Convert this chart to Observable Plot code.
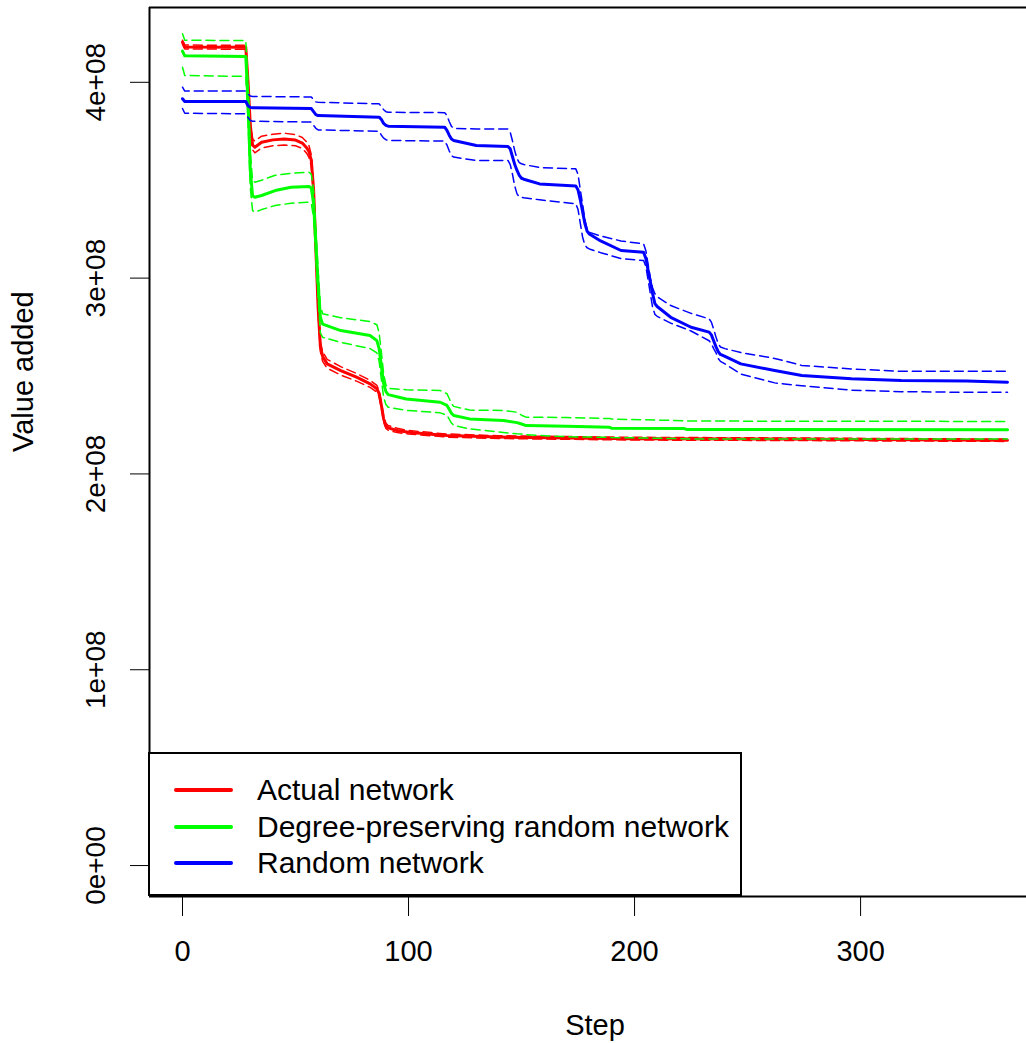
<!DOCTYPE html>
<html><head><meta charset="utf-8">
<script src="https://cdn.jsdelivr.net/npm/d3@7"></script>
<script src="https://cdn.jsdelivr.net/npm/@observablehq/plot@0.6"></script>
<style>
html,body{margin:0;padding:0;background:#fff;}
#wrap{position:relative;width:1026px;height:1043px;overflow:hidden;font-family:"Liberation Sans",Arial,sans-serif;}
#wrap svg{overflow:hidden;}
#legend{position:absolute;left:148px;top:752px;width:594px;height:144px;box-sizing:border-box;border:2px solid #000;background:#fff;}
.row{position:absolute;left:0;height:36px;width:100%;}
.sw{position:absolute;left:24px;top:16px;width:59px;height:4px;border-radius:2px;}
.lab{position:absolute;left:107px;top:0;font-size:30px;line-height:36px;white-space:nowrap;color:#000;}
</style></head><body><div id="wrap"></div>
<script>
// ---- data (values in units of 1e8) ----
const seriesNames = ["Actual network", "Degree-preserving random network", "Random network"];
const seriesColors = ["#ff0000", "#00ff00", "#0000ff"];

const xTicks = [0, 100, 200, 300];
const yTicks = [0, 1, 2, 3, 4];
const yTickLabels = ["0e+00", "1e+08", "2e+08", "3e+08", "4e+08"];

const redSteps = [0,1,28,29,30,31,32,35,40,45,50,53,55,56,57,58,59,60,61,62,64,70,77,83,86,87,88,89,90,91,95,100,110,117,140,200,260,365];
const redMid = [4.205,4.180,4.179,4.00,3.78,3.68,3.668,3.694,3.706,3.711,3.705,3.690,3.665,3.645,3.60,3.45,3.15,2.85,2.65,2.60,2.562,2.528,2.494,2.46,2.435,2.41,2.35,2.28,2.245,2.235,2.222,2.213,2.203,2.196,2.188,2.180,2.178,2.172];
const redHi = [4.215,4.190,4.189,4.01,3.80,3.71,3.70,3.725,3.735,3.740,3.733,3.718,3.695,3.675,3.63,3.48,3.18,2.88,2.675,2.625,2.585,2.548,2.513,2.478,2.452,2.425,2.365,2.295,2.258,2.247,2.233,2.222,2.211,2.204,2.195,2.187,2.184,2.178];
const redLo = [4.195,4.170,4.169,3.99,3.76,3.655,3.64,3.665,3.676,3.680,3.676,3.662,3.637,3.615,3.57,3.42,3.12,2.82,2.625,2.575,2.54,2.505,2.474,2.442,2.418,2.395,2.335,2.265,2.232,2.223,2.211,2.204,2.195,2.188,2.181,2.173,2.171,2.166];

const greenSteps = [0,1,28,29,30,31,32,35,41,48,56,57,58,59,60,61,62,70,83,86,87,88,89,90,91,99,114,117,118,119,120,127,142,148,150,152,170,189,190,222,223,365];
const greenMid = [4.159,4.135,4.132,3.90,3.55,3.42,3.413,3.422,3.447,3.464,3.468,3.46,3.38,3.18,2.97,2.80,2.765,2.732,2.707,2.681,2.64,2.55,2.46,2.42,2.405,2.383,2.366,2.35,2.33,2.31,2.298,2.281,2.273,2.262,2.255,2.247,2.243,2.238,2.233,2.232,2.227,2.225];
const greenHi = [4.248,4.215,4.213,4.00,3.64,3.50,3.49,3.50,3.525,3.535,3.541,3.53,3.45,3.25,3.04,2.86,2.818,2.798,2.778,2.762,2.72,2.62,2.51,2.455,2.437,2.43,2.426,2.41,2.385,2.36,2.345,2.326,2.324,2.315,2.30,2.29,2.288,2.283,2.28,2.272,2.270,2.268];
const greenLo = [4.077,4.035,4.030,3.80,3.46,3.345,3.337,3.35,3.371,3.382,3.388,3.38,3.31,3.11,2.90,2.72,2.698,2.672,2.64,2.618,2.575,2.48,2.39,2.355,2.341,2.325,2.312,2.30,2.28,2.26,2.248,2.23,2.212,2.205,2.204,2.20,2.19,2.187,2.186,2.18,2.179,2.178];

const blueSteps = [0,1,28,29,30,31,57,58,59,60,87,88,89,90,91,116,117,118,119,120,130,144,145,146,147,148,149,150,151,158,174,175,176,177,178,179,180,185,194,204,205,206,207,208,209,210,216,225,233,234,235,236,237,238,240,247,262,274,296,318,347,365];
const blueMid = [3.916,3.902,3.902,3.88,3.872,3.870,3.866,3.85,3.835,3.830,3.822,3.81,3.79,3.78,3.776,3.771,3.755,3.73,3.71,3.703,3.677,3.672,3.66,3.62,3.58,3.55,3.525,3.51,3.505,3.481,3.471,3.45,3.40,3.34,3.28,3.24,3.225,3.19,3.141,3.132,3.10,3.04,2.98,2.92,2.87,2.855,2.80,2.749,2.724,2.71,2.68,2.65,2.625,2.61,2.60,2.562,2.528,2.503,2.486,2.477,2.474,2.468];
const blueHi = [3.975,3.955,3.955,3.94,3.93,3.928,3.925,3.91,3.90,3.898,3.89,3.875,3.86,3.85,3.847,3.845,3.83,3.80,3.775,3.765,3.762,3.762,3.745,3.70,3.65,3.61,3.59,3.584,3.58,3.565,3.558,3.53,3.45,3.38,3.30,3.25,3.234,3.215,3.19,3.175,3.14,3.07,3.00,2.95,2.92,2.905,2.86,2.82,2.792,2.775,2.74,2.70,2.665,2.648,2.64,2.62,2.59,2.554,2.536,2.524,2.524,2.524];
const blueLo = [3.866,3.842,3.839,3.82,3.805,3.801,3.797,3.78,3.765,3.757,3.75,3.73,3.715,3.707,3.703,3.70,3.68,3.65,3.625,3.618,3.601,3.601,3.58,3.53,3.47,3.43,3.415,3.413,3.41,3.40,3.38,3.35,3.28,3.21,3.17,3.155,3.149,3.13,3.10,3.09,3.06,2.99,2.92,2.85,2.815,2.805,2.77,2.73,2.68,2.665,2.64,2.62,2.59,2.575,2.562,2.51,2.465,2.45,2.428,2.42,2.417,2.417];

// ---- build tables ----
const toRows = (steps, vals) => steps.map((s, i) => ({step: s, v: vals[i]}));
const series = [
  {color: seriesColors[0], steps: redSteps, mid: redMid, hi: redHi, lo: redLo},
  {color: seriesColors[1], steps: greenSteps, mid: greenMid, hi: greenHi, lo: greenLo},
  {color: seriesColors[2], steps: blueSteps, mid: blueMid, hi: blueHi, lo: blueLo}
];

const xDomain = [-14.6, 379.6];
const yDomain = [-0.158, 4.382];

const lineMarks = [];
for (const s of series) {
  lineMarks.push(Plot.line(toRows(s.steps, s.mid), {x: "step", y: "v", stroke: s.color, strokeWidth: 3, strokeLinejoin: "round", strokeLinecap: "round"}));
  lineMarks.push(Plot.line(toRows(s.steps, s.hi), {x: "step", y: "v", stroke: s.color, strokeWidth: 1.5, strokeDasharray: "9,5"}));
  lineMarks.push(Plot.line(toRows(s.steps, s.lo), {x: "step", y: "v", stroke: s.color, strokeWidth: 1.5, strokeDasharray: "9,5"}));
}

const chart = Plot.plot({
  width: 1026,
  height: 1043,
  marginLeft: 149,
  marginRight: -14,
  marginTop: 7,
  marginBottom: 147,
  style: {fontFamily: "'Liberation Sans', Arial, sans-serif", background: "white", color: "black"},
  x: {domain: xDomain},
  y: {domain: yDomain},
  marks: [
    Plot.axisX(xTicks, {tickSize: 20, tickPadding: 24, fontSize: 29, label: null, strokeWidth: 1}),
    Plot.axisY(yTicks, {tickSize: 19, tickFormat: () => "", label: null, strokeWidth: 1}),
    Plot.text(yTicks, {y: d => d, frameAnchor: "left", dx: -53, rotate: -90, text: (d, i) => yTickLabels[i], fontSize: 28, textAnchor: "middle", lineAnchor: "middle"}),
    ...lineMarks,
    Plot.ruleX([xDomain[0]], {strokeWidth: 2}),
    Plot.ruleY(yDomain, {strokeWidth: 2}),
    Plot.text(["Step"], {text: d => d, frameAnchor: "bottom", dy: 129, fontSize: 29, lineAnchor: "middle"}),
    Plot.text(["Value added"], {text: d => d, frameAnchor: "left", dx: -126, rotate: -90, fontSize: 29, lineAnchor: "middle"})
  ]
});

const wrap = document.getElementById("wrap");
wrap.appendChild(chart);

// legend
const legend = document.createElement("div");
legend.id = "legend";
const rowTops = [18, 54.5, 90.5];
seriesNames.forEach((name, i) => {
  const row = document.createElement("div");
  row.className = "row";
  row.style.top = rowTops[i] + "px";
  const sw = document.createElement("div");
  sw.className = "sw";
  sw.style.background = seriesColors[i];
  const lab = document.createElement("div");
  lab.className = "lab";
  lab.textContent = name;
  row.appendChild(sw);
  row.appendChild(lab);
  legend.appendChild(row);
});
wrap.appendChild(legend);
</script>
</body></html>
